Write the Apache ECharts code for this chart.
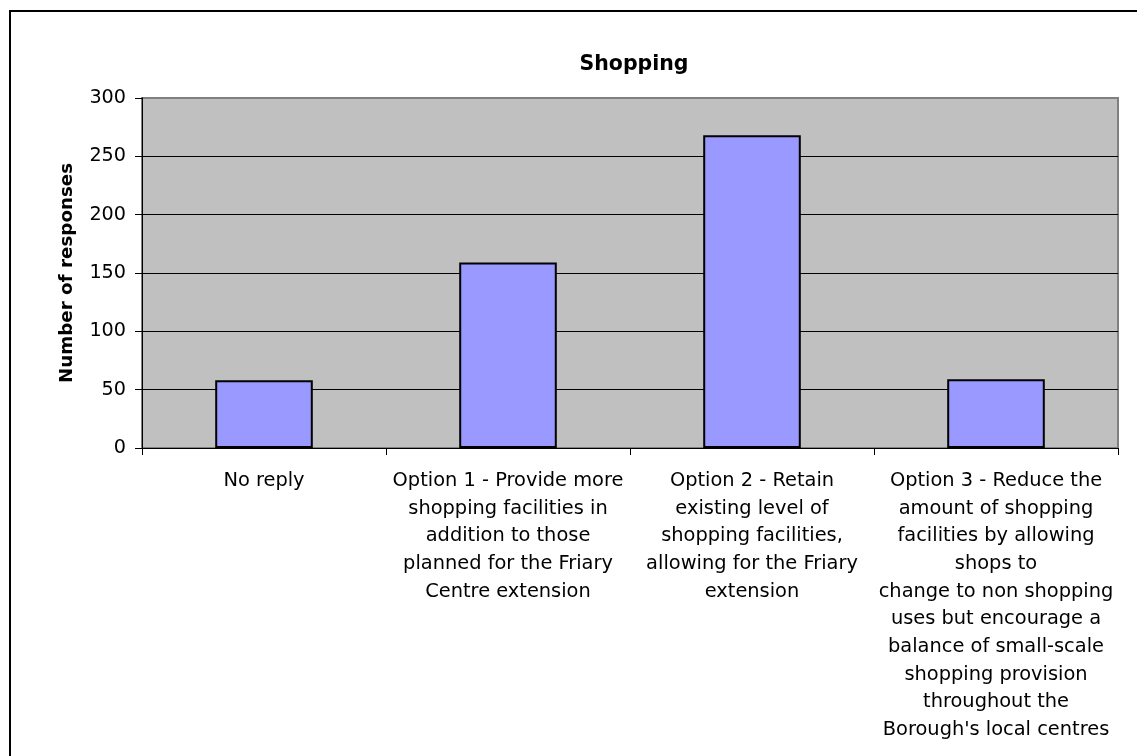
<!DOCTYPE html>
<html>
<head>
<meta charset="utf-8">
<script src="https://cdn.jsdelivr.net/npm/echarts@6/dist/echarts.min.js"></script>
<style>
html,body{margin:0;padding:0;background:#fff;}
#chart{width:1137px;height:756px;}
</style>
</head>
<body>
<div id="chart"></div>
<script>
const categories = [
  "No reply",
  "Option 1 - Provide more\nshopping facilities in\naddition to those\nplanned for the Friary\nCentre extension",
  "Option 2 - Retain\nexisting level of\nshopping facilities,\nallowing for the Friary\nextension",
  "Option 3 - Reduce the\namount of shopping\nfacilities by allowing\nshops to\nchange to non shopping\nuses but encourage a\nbalance of small-scale\nshopping provision\nthroughout the\nBorough's local centres"
];
const responses = [58, 159, 268, 59];
const chartTitle = "Shopping";
const yAxisTitle = "Number of responses";

const font = "'DejaVu Sans', 'Liberation Sans', Arial, sans-serif";
const chart = echarts.init(document.getElementById('chart'), null, {renderer: 'canvas'});
chart.setOption({
  animation: false,
  backgroundColor: '#ffffff',
  title: {
    text: chartTitle,
    left: 629, top: 49, textAlign: 'center',
    textStyle: {fontFamily: font, fontSize: 20.5, fontWeight: 'bold', color: '#000'}
  },
  graphic: [{
    type: 'rect', silent: true, z: 100,
    shape: {x: 10, y: 11, width: 1300, height: 900},
    style: {fill: 'none', stroke: '#000', lineWidth: 2}
  }],
  grid: {
    left: 142, right: 1137 - 1118, top: 98, bottom: 756 - 448,
    show: true, backgroundColor: '#c0c0c0', borderColor: '#808080', borderWidth: 2,
    containLabel: false
  },
  xAxis: {
    type: 'category',
    data: categories,
    axisLine: {show: true, lineStyle: {color: '#000', width: 1}},
    axisTick: {show: true, length: 7, inside: false, alignWithLabel: false, lineStyle: {color: '#000'}},
    axisLabel: {
      interval: 0, margin: 19, color: '#000',
      fontFamily: font, fontSize: 19.4, lineHeight: 27.7, align: 'center'
    },
    splitLine: {show: false}
  },
  yAxis: {
    type: 'value',
    min: 0, max: 300, interval: 50,
    name: yAxisTitle,
    nameLocation: 'middle',
    nameGap: 65.5,
    nameRotate: 90,
    nameTextStyle: {fontFamily: font, fontSize: 18.3, fontWeight: 'bold', color: '#000'},
    axisLine: {show: true, lineStyle: {color: '#000', width: 1}},
    axisTick: {show: true, length: 7, lineStyle: {color: '#000'}},
    axisLabel: {color: '#000', fontFamily: font, fontSize: 19.2, margin: 16},
    splitLine: {show: true, lineStyle: {color: ['#000', '#000', '#000', '#000', '#000', '#000', '#808080'], width: 1}}
  },
  series: [{
    type: 'bar',
    data: responses,
    barWidth: '40%',
    itemStyle: {color: '#9999ff', borderColor: '#000', borderWidth: 2},
    label: {show: false}
  }]
});
</script>
</body>
</html>
